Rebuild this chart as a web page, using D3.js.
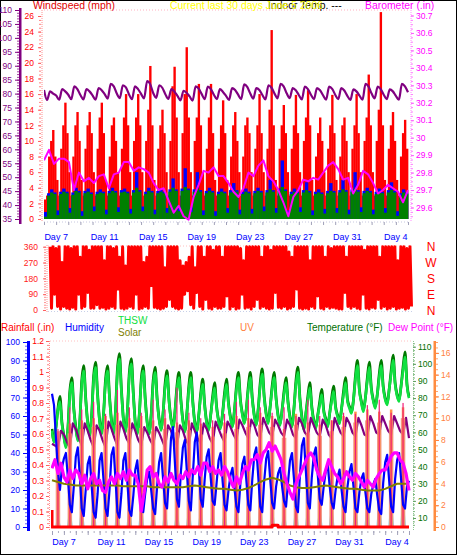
<!DOCTYPE html>
<html><head><meta charset="utf-8">
<script src="https://cdn.jsdelivr.net/npm/d3@7"></script>
<style>body{margin:0;background:#fff}svg{display:block}</style>
</head><body><svg id="c" width="457" height="555"></svg>
<script>
// ---------- DATA ----------
const dayTicks = [1,5,9,13,17,21,25,29];
const dayLabels = ["Day 7","Day 11","Day 15","Day 19","Day 23","Day 27","Day 31","Day 4"];
const compass = ["N","W","S","E","N"];
const compassDeg = [360,270,180,90,0];

// wind speed high (mph), 6 per day
const windHi = [2.5,3,8,10,11.4,8, 5,3,9,12,14.9,11, 6,3,8,12,13.7,10, 5,3,9,12,13.7,11, 6,3,9,13,14.9,11,
 5,3,8,12,13,10, 6,3,9,13,16,12, 6,3,10,13,16,12, 6,3,10,14,19.6,12, 5,3,9,12,14,11,
 6,3,10,17,19.5,13, 6,3,11,16,22,13, 6,3,10,13,17.3,12, 6,3,9,13,17.3,11, 5,3,9,12,15.2,11,
 5,3,8,12,13.7,10, 6,3,8,12,13,11, 6,3,9,12,16,11, 6,3,9,14,24.2,12, 5,3,9,12,14.6,11,
 6,3,9,12,15.9,11, 6,3,10,13,16.5,12, 5,3,8,11,13,10, 6,3,9,12,15.9,11, 5,3,8,12,13,10,
 6,3,9,12,16,11, 6,3,10,13,18.5,12, 6,3,10,14,26.5,12, 5,3,9,12,13.7,10, 5,3,8,11,12.7,9];
// wind speed (blue), 4 per day
const windBlue = [0.9,3.3,3.8,3.4, 1.1,3.5,3.9,3.5, 1.4,3.4,4,3.6, 1,3.6,3.9,3.4, 1.6,3.5,3.8,3.5,
 1.2,3.6,4,3.6, 1.5,3.7,3.9,3.5, 1.3,3.7,6,3.7, 1.6,3.5,4,3.6, 1.2,3.6,3.9,3.5,
 1.4,3.8,5.2,3.8, 1.6,3.9,6.5,3.9, 1.5,3.8,6,3.7, 1.1,3.6,4,3.6, 1,3.5,3.9,3.5,
 1.4,3.7,4.6,3.7, 1.2,3.5,3.9,3.5, 1.3,3.6,4,3.6, 1.6,3.7,5,3.7, 1.4,3.9,7.5,3.8,
 1.1,3.5,3.9,3.5, 1.5,3.7,4.7,3.6, 1.1,3.5,3.8,3.4, 1.3,3.6,4.6,3.6, 1.4,3.7,5,3.7,
 1.2,3.8,6,3.7, 1.5,3.6,4,3.6, 1.2,3.5,3.9,3.5, 1.4,3.7,4.7,3.6, 1,3.3,3.8,3.4];
// wind speed average (green), 4 per day
const windAvg = [0.3,3,3.4,3.2, 0.5,3.2,3.5,3.3, 0.8,3.1,3.6,3.4, 0.4,3.3,3.5,3.2, 1,3.2,3.4,3.3,
 0.6,3.3,3.6,3.4, 0.9,3.4,3.5,3.3, 0.7,3.4,4,3.5, 1,3.2,3.6,3.4, 0.6,3.3,3.5,3.3,
 0.8,3.5,4,3.6, 1,3.6,4.1,3.7, 0.9,3.5,3.9,3.5, 0.5,3.3,3.6,3.4, 0.4,3.2,3.5,3.3,
 0.8,3.4,3.7,3.5, 0.6,3.2,3.5,3.3, 0.7,3.3,3.6,3.4, 1,3.4,3.8,3.5, 0.8,3.6,4.1,3.6,
 0.5,3.2,3.5,3.3, 0.9,3.4,3.7,3.4, 0.5,3.2,3.4,3.2, 0.7,3.3,3.6,3.4, 0.8,3.4,3.8,3.5,
 0.6,3.5,3.9,3.5, 0.9,3.3,3.6,3.4, 0.6,3.2,3.5,3.3, 0.8,3.4,3.7,3.4, 0.4,3,3.4,3.2];
// indoor temperature (F), 4 per day + end
const indoorTemp = [81.3,77.7,80.8,80, 79.3,77.8,81.6,80.8, 79.6,78,82.6,81.6, 79.5,77.9,81.6,80.8, 79.4,77.8,82,81.2,
 79.8,78.2,83.5,82.6, 80,78.4,83,82.2, 79.8,78,82.6,81.6, 79.9,78.3,84.5,83.4, 80.2,78.5,83,82.1,
 79.8,78.1,81.6,80.7, 79.2,77.6,81,80.3, 79,77.5,82.6,81.8, 79.8,78,82.5,81.6, 79.6,78,81.6,80.6,
 79.2,77.7,82,81.3, 79.6,78,83.3,82.4, 80,78.2,82,81.3, 79.5,77.9,83,82.1, 80,78.3,83.5,82.6,
 80.1,78.4,82,81.2, 79.5,77.9,82.5,81.6, 79.6,78,82,81.2, 79.4,77.8,82.5,81.7, 79.6,78,82,81.1,
 79.2,77.7,81.5,80.8, 79.3,77.8,83.5,82.5, 80,78.3,82.5,81.6, 79.6,78,81.5,80.8, 79.2,77.8,83.5,82.6, 80.5];
// barometer (in)
const barometer = [29.87,29.93,29.85,29.88,29.88,29.86,29.70,29.80,29.75,29.77,29.74,29.78,29.79,29.71,29.79,
 29.80,29.86,29.86,29.81,29.83,29.82,29.80,29.74,29.70,29.71,29.64,29.57,29.61,29.55,29.53,
 29.66,29.73,29.81,29.80,29.83,29.78,29.78,29.74,29.69,29.66,29.71,29.80,29.78,29.84,29.87,
 29.78,29.75,29.70,29.63,29.55,29.66,29.70,29.76,29.75,29.77,29.76,29.80,29.84,29.86,29.82,
 29.76,29.77,29.68,29.73,29.81,29.79,29.74,29.68,29.70,29.73,29.71,29.69,29.63,29.70];
// wind direction (deg) high / low per 6 h
const windDirHi = [360,360,350,360, 270,360,360,350, 360,360,300,360, 360,340,360,360, 360,360,280,360,
 360,350,360,300, 360,250,360,360, 360,360,360,270, 300,360,360,360, 360,360,240,360,
 360,360,360,280, 250,270,300,360, 240,360,360,300, 360,360,340,360, 360,300,360,360,
 360,360,360,350, 280,360,360,360, 360,360,300,360, 360,340,360,360, 360,360,360,330,
 300,360,360,360, 360,360,280,360, 360,360,360,300, 360,350,360,360, 360,360,300,360,
 360,360,360,360, 340,360,360,360, 360,300,360,360, 360,360,360,280, 360,360,350,360];
const windDirLo = [10,90,20,5, 20,10,5,15, 5,90,10,20, 100,10,10,30, 10,15,5,10,
 20,10,120,10, 5,10,20,10, 90,5,10,20, 10,140,15,10, 5,10,20,60,
 20,10,5,10, 90,110,30,10, 100,20,5,60, 10,5,20,10, 10,20,80,5,
 20,5,10,90, 10,15,5,20, 60,10,20,10, 5,10,100,15, 10,20,5,10,
 20,120,10,5, 10,5,20,10, 80,10,5,20, 10,15,10,5, 5,100,20,10,
 20,10,5,90, 10,5,15,10, 60,10,20,5, 10,20,5,10, 15,5,10,20];
// outdoor temperature (F), 6 per day + end
const temperature = [62,55,63,74,81,66, 58,52,62,84,92,74, 63,56,66,90,99,80, 66,59,70,93,101,82, 67,60,71,91,99,81,
 67,60,72,97,106,85, 68,61,72,95,103,83, 66,60,70,91,99,80, 66,60,70,90,98,80, 68,62,71,88,96,79,
 68,63,72,87,95,79, 67,61,71,87,95,78, 66,61,70,83,91,76, 66,62,70,81,89,75, 67,63,71,83,91,77,
 69,64,73,87,95,79, 71,66,74,87,95,80, 70,65,74,89,97,81, 71,66,75,87,95,80, 70,65,73,84,92,78,
 69,64,74,90,98,80, 69,62,71,81,89,75, 67,63,70,78,85,73, 68,64,71,80,87,75, 70,66,74,84,92,79,
 75,72,79,93,102,85, 78,73,80,92,101,86, 79,75,82,94,102,87, 80,77,85,96,105,89, 82,79,87,98,107,88, 81];
const thsw = [61,54,63,73,78,65, 57,51,62,82,89,73, 62,55,66,88,96,79, 65,58,70,91,98,81, 66,59,71,89,96,80,
 66,59,72,95,103,84, 67,60,72,93,100,82, 65,59,70,89,96,79, 65,59,70,88,95,79, 67,61,71,86,93,78,
 67,62,72,85,92,78, 66,60,71,85,92,77, 65,60,70,81,88,75, 65,61,70,79,86,74, 66,62,71,81,88,76,
 68,63,73,85,92,78, 70,65,74,85,92,79, 69,64,74,87,94,80, 70,65,75,85,92,79, 69,64,73,82,89,77,
 68,63,74,88,95,79, 68,61,71,79,86,74, 66,62,70,76,82,72, 67,63,71,78,84,74, 69,65,74,82,89,78,
 74,71,79,91,99,84, 77,72,80,90,98,85, 78,74,82,92,99,86, 79,76,85,94,102,88, 81,78,87,96,104,87, 80];
// outdoor humidity (%), 6 per day + end
const humidity = [72,66,48,30,20,32, 37,40,27,12,8,22, 38,43,28,10,6,20, 34,38,22,8,5,18, 36,40,25,10,6,20,
 39,43,26,8,5,18, 36,40,24,9,6,17, 31,36,22,11,8,18, 26,30,20,10,7,22, 35,40,26,13,10,28,
 48,54,34,15,11,30, 43,47,30,14,9,28, 46,51,32,15,11,26, 38,42,27,14,12,24, 36,40,25,12,9,20,
 28,32,21,11,8,24, 34,38,25,12,9,26, 39,43,27,11,8,25, 37,41,26,13,10,22, 29,32,22,14,11,24,
 36,40,26,11,8,28, 44,48,30,13,10,27, 39,43,28,15,12,22, 30,34,22,13,10,20, 27,31,20,11,8,22,
 30,34,22,10,8,19, 26,29,19,10,8,18, 23,26,17,9,7,24, 35,39,25,11,8,26, 36,40,26,12,10,22, 25];
// purple (humidity-scale) series, 4 per day + end
const indoorHum = [45,44,43,52, 50,46,43,56, 53,48,44,56, 52,47,43,55, 52,47,43,57,
 53,48,44,57, 53,48,45,56, 52,47,44,54, 51,47,44,54, 51,47,43,55,
 52,47,44,55, 52,47,44,56, 52,48,45,56, 53,48,45,57, 53,49,46,57,
 54,50,47,58, 55,51,48,58, 55,50,48,59, 55,51,49,58, 55,51,49,58,
 55,50,48,59, 56,51,49,59, 55,51,49,58, 55,50,48,59, 55,51,49,59,
 56,51,49,59, 55,50,49,60, 56,51,50,60, 56,52,50,60, 56,52,50,59, 48];
// dew point (F), 4 per day + end
const dewPoint = [39,44,36,42, 34,31,38,33, 38,36,30,35, 27,33,36,30, 32,26,25,31,
 34,30,36,33, 37,32,38,35, 35,30,14,25, 38,40,34,36, 30,28,34,31,
 36,32,30,35, 33,37,34,38, 36,40,35,42, 42,37,40,36, 38,35,40,37,
 32,28,34,30, 36,40,38,44, 44,47,42,48, 50,54,49,52, 48,44,36,30,
 25,21,30,34, 38,42,46,48, 45,38,34,32, 38,44,40,36, 34,30,33,37,
 34,32,36,34, 31,28,32,30, 28,33,36,38, 38,42,46,48, 48,44,42,36, 26];
// solar (olive), 2 per day + end
const solar = [32,31,30,29.5,29,29,29,29,29,29, 29,29,28.5,28.5,28.5,28.5,28.5,28,28,28,
 28,28,28,28.5,29,28.5,28,27.5,27,27, 26.5,26,26.5,27.5,29,31,32.5,33.5,32.5,31,
 29,28,27.5,27.5,28,28.5,29,28.5,28,27.5, 27,27,26.5,26,26,26,27,28.5,30,30, 30];
// rainfall (in), 2 per day + end
const rainfall = [0.11,0,0,0,0,0,0,0,0,0, 0,0,0,0,0,0,0,0,0,0, 0,0,0,0,0,0,0,0,0,0,
 0,0,0,0,0,0,0,0,0.012,0, 0,0,0,0,0,0,0,0,0,0, 0,0,0,0,0,0,0,0,0,0, 0];
// daily noon peaks (UV scale)
const uvPeaks = [7.5,9.5,9.8,10,10.2,10.5,10,10.2,9.8,10,9.6,9.8,9.5,9.2,9.6,10.2,10,10.5,10.2,9,10.4,9.6,9.4,9.8,10.2,10.6,10.8,10.6,10.8,11];
const salmonPeaks = [8.8,8.6,9,9.2,9,9.4,9,9.1,8.8,9,8.7,8.9,8.5,8.3,8.6,9,9.2,9.4,9.2,8.2,9.4,8.6,8.4,8.8,9.2,9.6,9.8,9.6,9.8,10];
const pinkPeaks = [9,11,10.8,11.5,10.4,12.6,11,10.5,11.7,10.8,12.8,10.5,10,9.8,10.4,11.5,11.7,11,10.5,11,10.2,11.7,10.2,9.8,10.5,10.4,11.2,11.7,10.5,11.4];
const cyanPeaks = [1.2,2.2,2.5,2.6,2.4,2.8,2.5,2.6,2.4,2.2,2,2.3,2.1,2,2.2,2.6,2.4,2.8,2.5,1.8,2.6,2.3,2.1,2.4,2.6,2.8,3,3.2,3,3.4];

// ---------- DRAW ----------
const FONT = "'Liberation Sans', Arial, sans-serif";
const svg = d3.select("#c").attr("font-family", FONT);
svg.append("rect").attr("x",0.5).attr("y",0.5).attr("width",456).attr("height",554).attr("fill","#fff").attr("stroke","#000");

function tOf(arr){ const s = 30/(arr.length-1); return (i)=>i*s; }
function drawLine(g, arr, xs, ys, color, w, curve){
  const tf = tOf(arr);
  g.append("path").attr("d", d3.line().x((d,i)=>xs(tf(i))).y(d=>ys(d)).curve(curve||d3.curveLinear)(arr))
   .attr("fill","none").attr("stroke",color).attr("stroke-width",w).attr("stroke-linejoin","round");
}
function drawBars(g, arr, perDay, xs, ys, color){
  const w = xs(1/perDay)-xs(0);
  g.selectAll(null).data(arr).enter().append("rect")
   .attr("x",(d,i)=>xs(i/perDay)).attr("width",w+0.35)
   .attr("y",d=>ys(d)).attr("height",d=>ys(0)-ys(d)).attr("fill",color);
}
function noonBars(g, peaks, xs, ys, color, w, op){
  g.selectAll(null).data(peaks).enter().append("rect")
   .attr("x",(d,i)=>xs(i+0.5)-w/2).attr("width",w)
   .attr("y",d=>ys(d)).attr("height",d=>ys(0)-ys(d)).attr("fill",color).attr("opacity",op||1);
}
function humpPts(peaks){ const p=[]; peaks.forEach((v,d)=>{p.push([d,0],[d+0.25,0],[d+0.5,v],[d+0.75,0]);}); p.push([30,0]); return p; }
function axis(g, gen, tickColor, textColor, size){
  g.call(gen);
  g.select(".domain").remove();
  g.selectAll(".tick line").attr("stroke", tickColor);
  g.selectAll(".tick text").attr("fill", textColor).attr("font-size", size).attr("font-family", FONT);
  g.attr("font-size", size).attr("font-family", FONT);
}
function vdots(x, y1, y2, color){
  svg.append("line").attr("x1",x).attr("x2",x).attr("y1",y1).attr("y2",y2).attr("stroke",color).attr("stroke-dasharray","1,1");
}
function hdots(y, x1, x2, color){
  svg.append("line").attr("x1",x1).attr("x2",x2).attr("y1",y).attr("y2",y).attr("stroke",color).attr("stroke-dasharray","1,2");
}
function text(s, x, y, color, size, anchor){
  return svg.append("text").text(s).attr("x",x).attr("y",y).attr("fill",color).attr("font-size",size).attr("text-anchor",anchor||"start");
}

// ===== TOP PANEL =====
const xTop = d3.scaleLinear().domain([0,30]).range([44,408]);
const yWind = d3.scaleLinear().domain([0,26]).range([219,16]);
const yIn = d3.scaleLinear().domain([35,110]).range([219,10]);
const yBaro = d3.scaleLinear().domain([29.6,30.7]).range([207.5,15.5]);

svg.append("clipPath").attr("id","ct").append("rect").attr("x",44).attr("y",8).attr("width",366).attr("height",213);
hdots(10, 44, 410, "#FFB0C0");
hdots(222, 44, 410, "#C8C8E0");
const gT = svg.append("g").attr("clip-path","url(#ct)");
drawBars(gT, windHi, 6, xTop, yWind, "#FF0000");
drawBars(gT, windBlue, 4, xTop, yWind, "#0000FF");
drawBars(gT, windAvg, 4, xTop, yWind, "#008000");
drawLine(gT, barometer, xTop, yBaro, "#FF00FF", 2);
drawLine(gT, indoorTemp, xTop, yIn, "#800080", 2.2, d3.curveMonotoneX);

// purple indoor temp axis
svg.append("rect").attr("x",19).attr("y",8).attr("width",2.5).attr("height",216).attr("fill","#800080");
axis(svg.append("g").attr("transform","translate(19,0)"), d3.axisLeft(yIn).tickValues(d3.range(35,111)).tickSize(2).tickFormat(""), "#A040A0", "#800080", 8.5);
axis(svg.append("g").attr("transform","translate(19,0)"), d3.axisLeft(yIn).tickValues(d3.range(35,111,5)).tickSize(4).tickPadding(3), "#800080", "#800080", 8.5);
// red wind axis
vdots(42, 10, 222, "#FF9090");
axis(svg.append("g").attr("transform","translate(41,0)"), d3.axisLeft(yWind).tickValues(d3.range(0,26.01,0.5)).tickSize(2).tickFormat(""), "#FF8080", "#FF0000", 8.5);
axis(svg.append("g").attr("transform","translate(41,0)"), d3.axisLeft(yWind).tickValues(d3.range(0,27,2)).tickSize(3).tickPadding(4), "#FF6060", "#FF0000", 8.5);
// barometer axis
vdots(411, 10, 222, "#FF90FF");
axis(svg.append("g").attr("transform","translate(411,0)"), d3.axisRight(yBaro).tickValues(d3.range(0,47).map(i=>29.55+i*0.025)).tickSize(2).tickFormat(""), "#FF80FF", "#FF00FF", 8.5);
axis(svg.append("g").attr("transform","translate(411,0)"), d3.axisRight(yBaro).tickValues(d3.range(0,12).map(i=>+(29.6+i*0.1).toFixed(1))).tickSize(3).tickPadding(2).tickFormat(d=>String(+d.toFixed(1))), "#FF60FF", "#FF00FF", 8.5);
// top x axis
axis(svg.append("g").attr("transform","translate(0,222)"), d3.axisBottom(xTop).tickValues(d3.range(0,31)).tickSize(3).tickFormat(""), "#A0A0B8", "#00f", 9);
dayTicks.forEach((t,i)=>text(dayLabels[i], xTop(t), 239.5, "#0000FF", 9, "middle"));

// titles
text("Windspeed (mph)", 33, 9, "#E00000", 10.4);
text("Indoor Temp. ---", 268, 9, "#000000", 10.4);
text("Current last 30 days June 5 2006", 170, 9, "#FFFF00", 10.4);
text("Barometer (.in)", 365, 9, "#FF00FF", 10.4);

// ===== MIDDLE PANEL (wind direction) =====
const xMid = d3.scaleLinear().domain([0,30]).range([50,413]);
const yDir = d3.scaleLinear().domain([0,360]).range([310,246.7]);
hdots(246, 48, 414, "#FFC0C0");
hdots(311.5, 48, 414, "#C8D0E8");
const zig = [];
windDirHi.forEach((h,i)=>{ zig.push([i*0.25, h]); zig.push([i*0.25+0.125, windDirLo[i]]); });
svg.append("path").attr("d", d3.line().x(d=>xMid(d[0])).y(d=>yDir(d[1]))(zig))
  .attr("fill","none").attr("stroke","#FF0000").attr("stroke-width",3).attr("stroke-linejoin","round");
vdots(47, 245, 312, "#FF9090");
axis(svg.append("g").attr("transform","translate(46,0)"), d3.axisLeft(yDir).tickValues(d3.range(0,361,15)).tickSize(2).tickFormat(""), "#FF9090", "#FF0000", 8.5);
axis(svg.append("g").attr("transform","translate(46,0)"), d3.axisLeft(yDir).tickValues([0,90,180,270,360]).tickSize(3).tickPadding(5), "#FF6060", "#FF2020", 8.5);
compassDeg.forEach((v,i)=>text(compass[i], 431, yDir(v)+4.5, "#FF0000", 12, "middle"));

// ===== BOTTOM PANEL =====
const xBot = d3.scaleLinear().domain([0,30]).range([52,409]);
const yHum = d3.scaleLinear().domain([0,100]).range([527,342]);
const yRain = d3.scaleLinear().domain([0,1.2]).range([527,341]);
const yTemp = d3.scaleLinear().domain([0,110]).range([535.1,346.7]);
const yUV = d3.scaleLinear().domain([0,17]).range([527,342]);

svg.append("clipPath").attr("id","cb").append("rect").attr("x",51).attr("y",341).attr("width",360).attr("height",190);
hdots(341, 50, 412, "#FFC0C0");
const gB = svg.append("g").attr("clip-path","url(#cb)");
const area = d3.area().x(d=>xBot(d[0])).y0(yUV(0)).y1(d=>yUV(d[1]));
gB.append("path").attr("d", area(humpPts(cyanPeaks))).attr("fill","#8CDCEC");
drawLine(gB, temperature, xBot, yTemp, "#007800", 2.8, d3.curveMonotoneX);
drawLine(gB, thsw, xBot, yTemp, "#10E040", 2.6, d3.curveMonotoneX);
drawLine(gB, indoorHum, xBot, yHum, "#800080", 2.2);
noonBars(gB, salmonPeaks, xBot, yUV, "#F08878", 4.5, 0.85);
noonBars(gB, uvPeaks, xBot, yUV, "#FF8C40", 2.5, 0.95);
noonBars(gB, pinkPeaks, xBot, yUV, "#F0207A", 1.2, 1);
drawLine(gB, humidity, xBot, yHum, "#0000FF", 2.2);
drawLine(gB, solar, xBot, yTemp, "#808000", 2);
drawLine(gB, dewPoint, xBot, yTemp, "#FF00FF", 3.2);
drawLine(gB, rainfall, xBot, yRain, "#FF0000", 3, d3.curveStepBefore);

// humidity axis
svg.append("rect").attr("x",27).attr("y",341).attr("width",3).attr("height",190).attr("fill","#0000FF");
axis(svg.append("g").attr("transform","translate(27,0)"), d3.axisLeft(yHum).tickValues(d3.range(0,101,2)).tickSize(2).tickFormat(""), "#6060FF", "#0000FF", 8.5);
axis(svg.append("g").attr("transform","translate(27,0)"), d3.axisLeft(yHum).tickValues(d3.range(0,101,10)).tickSize(4).tickPadding(3), "#0000FF", "#0000FF", 8.5);
// rain axis
vdots(49.5, 341, 531, "#FF9090");
axis(svg.append("g").attr("transform","translate(49,0)"), d3.axisLeft(yRain).tickValues(d3.range(0,49).map(i=>i*0.025)).tickSize(2).tickFormat(""), "#FF8080", "#FF0000", 8.5);
axis(svg.append("g").attr("transform","translate(49,0)"), d3.axisLeft(yRain).tickValues(d3.range(0,13).map(i=>+(i*0.1).toFixed(1))).tickSize(3).tickPadding(2).tickFormat(d=>String(+d.toFixed(1))), "#FF6060", "#FF0000", 8.5);
// temperature axis
vdots(413.5, 341, 531, "#90C890");
axis(svg.append("g").attr("transform","translate(413,0)"), d3.axisRight(yTemp).tickValues(d3.range(6,113,2)).tickSize(2).tickFormat(""), "#80B880", "#008000", 8.5);
axis(svg.append("g").attr("transform","translate(413,0)"), d3.axisRight(yTemp).tickValues(d3.range(10,111,10)).tickSize(3).tickPadding(2), "#60A060", "#007000", 8.5);
// UV axis
svg.append("rect").attr("x",433.5).attr("y",341).attr("width",2.5).attr("height",190).attr("fill","#FF8C40");
axis(svg.append("g").attr("transform","translate(436,0)"), d3.axisRight(yUV).tickValues(d3.range(0,17.01,0.5)).tickSize(2).tickFormat(""), "#FFA070", "#FF8040", 8.5);
axis(svg.append("g").attr("transform","translate(436,0)"), d3.axisRight(yUV).tickValues(d3.range(0,17,2)).tickSize(3).tickPadding(2), "#FF8040", "#FF8040", 8.5);
// bottom x axis
axis(svg.append("g").attr("transform","translate(0,531)"), d3.axisBottom(xBot).tickValues(d3.range(0,30.01,0.5)).tickSize(2).tickFormat(""), "#B0B0C0", "#00f", 9);
axis(svg.append("g").attr("transform","translate(0,531)"), d3.axisBottom(xBot).tickValues(d3.range(0,31)).tickSize(4).tickFormat(""), "#A0A0B8", "#00f", 9);
dayTicks.forEach((t,i)=>text(dayLabels[i], xBot(t), 545, "#0000FF", 9, "middle"));

// legend
text("Rainfall (.in)", 1, 331, "#FF0000", 10);
text("Humidity", 65, 331, "#0000FF", 10);
text("THSW", 118, 324, "#10E040", 10);
text("Solar", 118, 336, "#808000", 10);
text("UV", 240, 331, "#FF8040", 10);
text("Temperature (°F)", 307, 331, "#007000", 10);
text("Dew Point (°F)", 388, 331, "#FF00FF", 10);
</script></body></html>
